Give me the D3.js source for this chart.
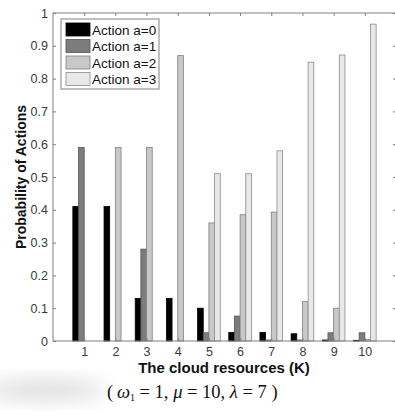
<!DOCTYPE html>
<html>
<head>
<meta charset="utf-8">
<script src="https://cdn.jsdelivr.net/npm/d3@7/dist/d3.min.js"></script>
<style>
  body { margin: 0; background: #fff; overflow: hidden; }
  text { font-family: "Liberation Sans", Arial, sans-serif; }
</style>
</head>
<body>
<div id="chart"></div>
<script>
const categories = [1, 2, 3, 4, 5, 6, 7, 8, 9, 10];
const seriesNames = ['Action a=0', 'Action a=1', 'Action a=2', 'Action a=3'];
const action0 = [0.41, 0.41, 0.13, 0.13, 0.10, 0.026, 0.026, 0.022, 0.003, 0.002];
const action1 = [0.59, 0, 0.28, 0, 0.025, 0.076, 0.003, 0.003, 0.025, 0.025];
const action2 = [0, 0.59, 0.59, 0.87, 0.36, 0.385, 0.393, 0.12, 0.10, 0.005];
const action3 = [0, 0, 0, 0, 0.51, 0.51, 0.58, 0.85, 0.872, 0.966];
const yTicks = [0, 0.1, 0.2, 0.3, 0.4, 0.5, 0.6, 0.7, 0.8, 0.9, 1];

const series = [action0, action1, action2, action3];
const fills = ['#000000', '#7c7c7c', '#c8c8c8', '#e8e8e8'];
const strokes = ['#000000', '#555555', '#808080', '#8c8c8c'];

const W = 395, H = 414;
const M = { left: 53, right: 396, top: 13, bottom: 341 };
const GROUP_WIDTH = 0.727; // matlab-ish grouped bar width
const BAR_W = GROUP_WIDTH / series.length;

const svg = d3.select('#chart').append('svg')
    .attr('width', W).attr('height', H);

// faint shadow at bottom-left, like the scanned figure
const defs = svg.append('defs');
const blur = defs.append('filter').attr('id', 'blur').attr('x', '-50%').attr('y', '-50%')
    .attr('width', '200%').attr('height', '200%');
blur.append('feGaussianBlur').attr('stdDeviation', 10);
svg.append('ellipse')
    .attr('cx', 45).attr('cy', 390).attr('rx', 60).attr('ry', 10)
    .attr('fill', '#dcdcdc').attr('filter', 'url(#blur)');

const x = d3.scaleLinear().domain([0, 11]).range([M.left, M.right]);
const y = d3.scaleLinear().domain([0, 1]).range([M.bottom, M.top]);

// bars
series.forEach((vals, s) => {
    svg.append('g')
        .selectAll('rect')
        .data(vals.map((v, i) => ({ k: categories[i], v })))
        .join('rect')
        .filter((d) => d.v > 0)
        .attr('x', (d) => x(d.k + (s - 2) * BAR_W))
        .attr('width', x(BAR_W) - x(0))
        .attr('y', (d) => y(d.v))
        .attr('height', (d) => y(0) - y(d.v))
        .attr('fill', fills[s])
        .attr('stroke', strokes[s])
        .attr('stroke-width', 0.8);
});

// box
const axisColor = '#808080';
svg.append('rect')
    .attr('x', M.left).attr('y', M.top)
    .attr('width', M.right - M.left).attr('height', M.bottom - M.top)
    .attr('fill', 'none').attr('stroke', axisColor).attr('stroke-width', 1);

const xAxis = svg.append('g')
    .attr('transform', `translate(0,${M.bottom})`)
    .call(d3.axisBottom(x).tickValues(categories).tickSize(-3).tickPadding(6).tickFormat(d3.format('d')));
const xTop = svg.append('g')
    .attr('transform', `translate(0,${M.top})`)
    .call(d3.axisTop(x).tickValues(categories).tickSize(-3).tickFormat(''));
const yAxis = svg.append('g')
    .attr('transform', `translate(${M.left},0)`)
    .call(d3.axisLeft(y).tickValues(yTicks).tickSize(-3).tickPadding(5).tickFormat((d) => (d === 0 || d === 1 ? d3.format('d')(d) : d3.format('.1f')(d))));
const yRight = svg.append('g')
    .attr('transform', `translate(${M.right},0)`)
    .call(d3.axisRight(y).tickValues(yTicks).tickSize(-3).tickFormat(''));

[xAxis, xTop, yAxis, yRight].forEach((g) => {
    g.select('.domain').remove();
    g.selectAll('line').attr('stroke', axisColor);
    g.selectAll('text').attr('fill', '#3a3a3a').style('font-size', '12.5px');
});

// axis labels
svg.append('text')
    .attr('x', 224).attr('y', 373)
    .attr('text-anchor', 'middle')
    .style('font-size', '15px').style('font-weight', 'bold').attr('fill', '#111')
    .text('The cloud resources (K)');
svg.append('text')
    .attr('transform', `translate(26,${(M.top + M.bottom) / 2}) rotate(-90)`)
    .attr('text-anchor', 'middle')
    .style('font-size', '14px').style('font-weight', 'bold').attr('fill', '#111')
    .text('Probability of Actions');

// legend
const legend = svg.append('g').attr('transform', 'translate(61,19)');
legend.append('rect')
    .attr('width', 98).attr('height', 70)
    .attr('fill', '#fff').attr('stroke', axisColor).attr('stroke-width', 1);
seriesNames.forEach((name, s) => {
    const row = legend.append('g').attr('transform', `translate(5,${4 + s * 16.5})`);
    row.append('rect')
        .attr('width', 24).attr('height', 13)
        .attr('fill', fills[s]).attr('stroke', strokes[s]).attr('stroke-width', 0.8);
    row.append('text')
        .attr('x', 26).attr('y', 11.5)
        .style('font-size', '13.5px').attr('fill', '#111')
        .text(name);
});

// caption
const cap = svg.append('text')
    .attr('x', 107).attr('y', 398)
    .style('font-family', '"Liberation Serif", "Times New Roman", serif')
    .style('font-size', '18.5px').attr('fill', '#111');
cap.append('tspan').text('(\u2009');
cap.append('tspan').style('font-style', 'italic').text('ω');
cap.append('tspan').attr('dy', 3).style('font-size', '10px').text('1');
cap.append('tspan').attr('dy', -3).text(' = 1, ');
cap.append('tspan').style('font-style', 'italic').text('μ');
cap.append('tspan').text(' = 10, ');
cap.append('tspan').style('font-style', 'italic').text('λ');
cap.append('tspan').text(' = 7 )');
</script>
</body>
</html>
